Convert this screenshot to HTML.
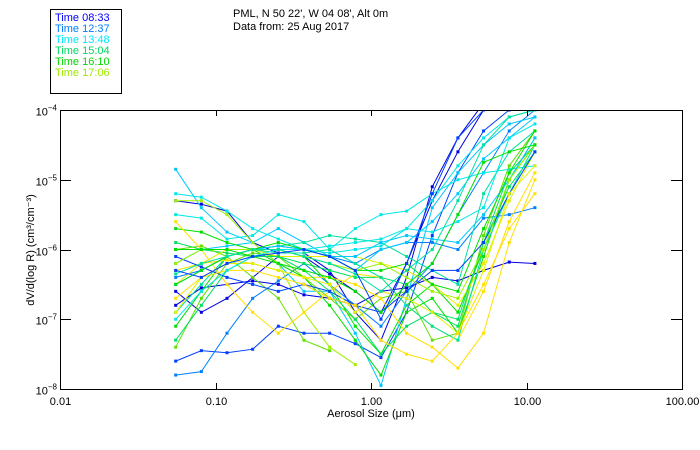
<!DOCTYPE html>
<html><head><meta charset="utf-8">
<style>
body{margin:0;background:#fff;}
svg{display:block;font-family:"Liberation Sans",sans-serif;}
</style></head>
<body>
<svg id="chart" width="700" height="450" viewBox="0 0 700 450" xmlns="http://www.w3.org/2000/svg">
  <rect x="0" y="0" width="700" height="450" fill="#fff"/>
  <g>
    <rect x="50.5" y="9.5" width="71" height="84" fill="none" stroke="#000"/>
    <text x="55" y="21" font-size="11" fill="#0000ff">Time 08:33</text>
    <text x="55" y="32" font-size="11" fill="#0080ff">Time 12:37</text>
    <text x="55" y="43" font-size="11" fill="#00e8ff">Time 13:48</text>
    <text x="55" y="54" font-size="11" fill="#00d860">Time 15:04</text>
    <text x="55" y="65" font-size="11" fill="#00d800">Time 16:10</text>
    <text x="55" y="76" font-size="11" fill="#a0e800">Time 17:06</text>
  </g>
  <text x="233" y="17" font-size="11">PML, N 50 22', W 04 08', Alt 0m</text>
  <text x="233" y="30" font-size="11">Data from: 25 Aug 2017</text>
  <defs><clipPath id="pc"><rect x="60" y="110" width="622" height="279"/></clipPath></defs>
  <g id="series" clip-path="url(#pc)"></g>
  <g id="axes"></g>
  <text x="371" y="417" font-size="11" text-anchor="middle">Aerosol Size (μm)</text>
  <text transform="translate(34,250) rotate(-90)" font-size="11" text-anchor="middle">dV/d(log R) (cm³/cm⁻³)</text>
</svg>
<script>
const binLogs = [-1.256,-1.091,-0.926,-0.761,-0.596,-0.431,-0.266,-0.101,0.064,0.229,0.394,0.559,0.724,0.889,1.054];
const xTicks = [-2,-1,0,1,2];
const xTickLabels = ["0.01","0.10","1.00","10.00","100.00"];
const yTicks = [-4,-5,-6,-7,-8];
const yTickSup = ["−4","−5","−6","−7","−8"];
const seriesColors = ['#0000e0','#0000e0','#0040ff','#0080ff','#0000e0','#00c8ff','#00e8e8','#0080ff','#00c8ff','#00e8e8','#00e0a0','#00e060','#00e000','#00e000','#60e000','#a0f000','#60e000','#ffe000','#ffe000','#e0f000','#00e0a0','#00e060','#00c8ff','#0040ff','#e0f000','#ffe000','#00e000','#a0f000','#00e8e8','#00e0a0','#00e000','#0040ff'];
const s01=[-5.3,-5.35,-5.45,-5.9,-6.05,-6.05,-6.3,-6.9,-7.3,-6.4,-5.1,-4.4,-3.9,null,null];
const s02=[-6.6,-6.9,-6.7,-6.4,-6.1,-6.1,-6.35,-6.6,-6.9,-6.2,-5.3,-4.6,-4.0,-3.8,-3.8];
const s03=[-7.6,-7.45,-7.48,-7.43,-7.1,-7.2,-7.2,-7.35,-7.55,-6.9,-5.8,-4.9,-4.3,-4.0,-3.9];
const s04=[-7.8,-7.75,-7.2,-6.7,-6.45,-6.2,-6.5,-6.8,-7.1,-6.6,-6.2,-5.5,-4.9,-4.3,-4.0];
const s05=[-6.8,-6.55,-6.5,-6.45,-6.5,-6.65,-6.7,-6.8,-6.6,-6.55,-6.4,-6.45,-6.3,-6.18,-6.2];
const s06=[-4.85,-5.4,-5.75,-5.9,-6.2,-6.6,-6.6,-7.2,-7.95,-6.7,-5.4,-4.9,-4.5,-4.2,-4.1];
const s07=[-5.5,-5.55,-5.85,-5.8,-5.5,-5.6,-6.0,-5.7,-5.5,-5.45,-5.2,-5.0,-4.9,-4.85,-4.8];
const s08=[-6.4,-6.3,-6.1,-6.0,-5.95,-6.0,-6.1,-6.2,-6.0,-5.9,-5.9,-6.0,-5.55,-5.5,-5.4];
const s09=[-6.2,-6.0,-5.95,-5.9,-5.7,-5.9,-6.1,-6.3,-6.0,-5.9,-5.6,-5.2,-4.7,-4.4,-4.1];
const s10=[-5.2,-5.25,-5.45,-5.7,-5.85,-6.0,-6.05,-6.0,-5.95,-5.7,-5.3,-4.8,-4.4,-4.1,-4.0];
const s11=[-6.9,-6.5,-6.1,-6.0,-5.95,-5.9,-5.8,-5.85,-5.9,-6.1,-6.3,-6.5,-5.2,-4.6,-4.3];
const s12=[-5.9,-6.0,-6.05,-6.1,-6.1,-6.2,-6.3,-6.4,-6.4,-6.5,-6.9,-7.1,-5.9,-4.9,-4.5];
const s13=[-5.7,-5.75,-5.9,-6.0,-6.2,-6.4,-6.8,-7.3,-7.8,-6.9,-6.7,-7.2,-6.1,-5.0,-4.4];
const s14=[-7.1,-6.6,-6.1,-6.0,-6.0,-6.1,-6.5,-7.1,-7.5,-6.8,-6.5,-6.9,-6.0,-5.0,-4.5];
const s15=[-7.4,-6.7,-6.2,-6.05,-6.1,-6.4,-6.7,-7.0,-6.7,-6.6,-7.3,-7.2,-5.8,-4.8,-4.3];
const s16=[-5.3,-5.3,-5.5,-5.9,-6.2,-6.9,-7.4,-7.65,null,null,null,null,null,null,null];
const s17=[-6.0,-5.95,-6.1,-6.4,-6.7,-7.3,-7.45,null,null,null,null,null,null,null,null];
const s18=[-5.6,-6.0,-6.5,-6.9,-7.2,-6.9,-6.6,-6.35,-6.4,-6.8,-7.1,-7.3,-6.6,-5.6,-4.9];
const s19=[-6.3,-6.2,-6.15,-6.2,-6.3,-6.4,-6.4,-6.5,-6.7,-7.2,-7.4,-7.7,-7.2,-5.9,-5.0];
const s20=[-6.5,-6.2,-6.0,-6.0,-6.1,-6.1,-6.1,-6.1,-6.2,-6.3,-6.5,-6.8,-6.2,-5.3,-4.6];
const s21=[-6.0,-6.0,-6.0,-6.0,-6.05,-6.05,-6.0,-6.2,-6.4,-6.8,-7.1,-7.3,-6.0,-5.2,-4.5];
const s22=[-7.3,-6.8,-6.3,-6.1,-6.1,-6.3,-6.6,-7.0,-7.5,-7.1,-6.9,-7.0,-5.9,-5.1,-4.6];
const s23=[-6.5,-6.3,-6.1,-6.0,-5.95,-6.0,-6.1,-6.1,-5.9,-5.8,-5.85,-5.9,-5.5,-5.0,-4.4];
const s24=[-6.1,-6.25,-6.4,-6.5,-6.6,-6.5,-6.6,-6.8,-6.9,-6.6,-6.3,-6.3,-5.9,-5.2,-4.6];
const s25=[-6.9,-6.4,-6.2,-6.2,-6.3,-6.4,-6.5,-6.9,-6.6,-6.7,-6.9,-7.2,-6.3,-5.2,-4.8];
const s26=[-6.7,-6.4,-6.3,-6.3,-6.4,-6.5,-6.7,-6.8,-7.3,-7.5,-7.6,-7.2,-6.5,-5.7,-5.2];
const s27=[-6.5,-6.3,-6.1,-6.0,-5.9,-6.0,-6.1,-6.3,-6.3,-6.2,-6.5,-6.6,-5.7,-4.9,-4.3];
const s28=[-6.2,-6.0,-6.0,-6.0,-6.0,-6.1,-6.2,-6.3,-6.2,-6.4,-6.6,-6.7,-6.0,-5.0,-4.5];
const s29=[-7.0,-6.6,-6.3,-6.1,-6.0,-6.0,-5.95,-5.9,-5.85,-5.7,-5.75,-5.6,-5.4,-4.4,-4.2];
const s30=[-6.35,-6.2,-6.1,-6.0,-6.0,-6.1,-6.2,-6.35,-6.6,-6.3,-6.0,-5.3,-4.5,-4.1,-4.0];
const s31=[-6.0,-6.0,-6.0,-6.1,-6.2,-6.3,-6.4,-6.6,-6.9,-6.5,-6.2,-5.5,-4.75,-4.6,-4.5];
const s32=[-6.3,-6.4,-6.2,-6.1,-6.05,-6.0,-6.1,-6.3,-7.0,-6.2,-5.2,-4.4,-4.0,-3.9,-3.9];
const allSeries=[s01,s02,s03,s04,s05,s06,s07,s08,s09,s10,s11,s12,s13,s14,s15,s16,s17,s18,s19,s20,s21,s22,s23,s24,s25,s26,s27,s28,s29,s30,s31,s32];

const L=60,R=682,T=110,B=389;
function xs(lg){return L+(lg+2)/4*(R-L);}
function ys(lg){return T+(-4-lg)/4*(B-T);}
const NS='http://www.w3.org/2000/svg';
const sg=document.getElementById('series');
allSeries.forEach((s,si)=>{
  const c=seriesColors[si%seriesColors.length];
  const pts=[];
  s.forEach((v,i)=>{if(v!==null)pts.push([xs(binLogs[i]),ys(v)]);});
  const pl=document.createElementNS(NS,'polyline');
  pl.setAttribute('points',pts.map(p=>p[0].toFixed(1)+','+p[1].toFixed(1)).join(' '));
  pl.setAttribute('fill','none');pl.setAttribute('stroke',c);pl.setAttribute('stroke-width','1');
  
  
  sg.appendChild(pl);
  pts.forEach((p,pi)=>{
    const r=document.createElementNS(NS,'rect');
    r.setAttribute('x',p[0]-1.5);r.setAttribute('y',p[1]-1.5);r.setAttribute('width',3);r.setAttribute('height',3);r.setAttribute('fill',c);
    
    
    sg.appendChild(r);
  });
});
const ag=document.getElementById('axes');
function line(x1,y1,x2,y2,n){const l=document.createElementNS(NS,'line');l.setAttribute('x1',x1);l.setAttribute('y1',y1);l.setAttribute('x2',x2);l.setAttribute('y2',y2);l.setAttribute('stroke','#000');l.setAttribute('stroke-width','1');
  
  
  ag.appendChild(l);}
const fr=document.createElementNS(NS,'rect');
fr.setAttribute('x',L+0.5);fr.setAttribute('y',T+0.5);fr.setAttribute('width',R-L);fr.setAttribute('height',B-T);fr.setAttribute('fill','none');fr.setAttribute('stroke','#000');fr.setAttribute('stroke-width','1');


ag.appendChild(fr);
xTicks.forEach((t,i)=>{
  const x=Math.round(xs(t))+0.5;
  if(i>0&&i<xTicks.length-1){line(x,B,x,B-6,'x-tick');line(x,T,x,T+6,'x-tick-top');}
  const tx=document.createElementNS(NS,'text');
  tx.setAttribute('x',x);tx.setAttribute('y',B+16);tx.setAttribute('font-size','11');tx.setAttribute('text-anchor','middle');
  tx.textContent=xTickLabels[i];
  
  
  ag.appendChild(tx);
});
yTicks.forEach((t,i)=>{
  const y=Math.round(ys(t))+0.5;
  if(i>0&&i<yTicks.length-1){line(L,y,L+11,y,'y-tick');line(R,y,R-11,y,'y-tick-right');}
  const tx=document.createElementNS(NS,'text');
  tx.setAttribute('x',L-3);tx.setAttribute('y',y+5);tx.setAttribute('font-size','11');tx.setAttribute('text-anchor','end');
  tx.innerHTML='10<tspan font-size="8" dy="-5">'+yTickSup[i]+'</tspan>';
  
  
  ag.appendChild(tx);
});
</script>
</body></html>
